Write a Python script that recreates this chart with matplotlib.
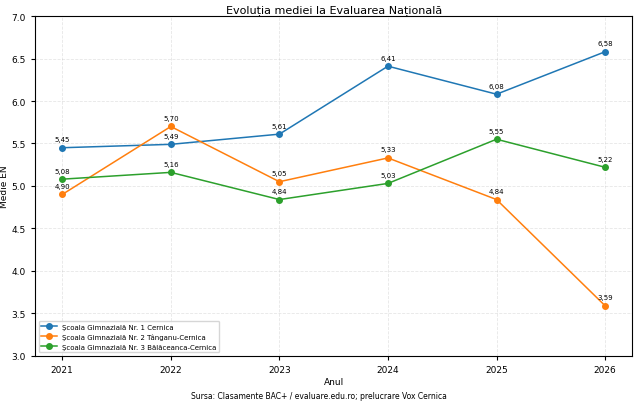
import matplotlib.pyplot as plt

ani = [2021, 2022, 2023, 2024, 2025, 2026]
scoala1 = [5.45, 5.49, 5.61, 6.41, 6.08, 6.58]
scoala2 = [4.90, 5.70, 5.05, 5.33, 4.84, 3.59]
scoala3 = [5.08, 5.16, 4.84, 5.03, 5.55, 5.22]
nume = ['Școala Gimnazială Nr. 1 Cernica',
        'Școala Gimnazială Nr. 2 Tânganu-Cernica',
        'Școala Gimnazială Nr. 3 Bălăceanca-Cernica']

fig = plt.figure(figsize=(6.38, 4.06), dpi=100)
ax = fig.add_axes([0.055, 0.121, 0.936, 0.837])

for vals, label in zip([scoala1, scoala2, scoala3], nume):
    ax.plot(ani, vals, marker='o', markersize=4, linewidth=1.1, label=label)
    for x, y in zip(ani, vals):
        ax.annotate(f"{y:.2f}".replace('.', ','), (x, y), xytext=(0, 4),
                    textcoords='offset points', ha='center', va='bottom', fontsize=5)

ax.set_ylim(3.0, 7.0)
ax.set_xlim(2020.75, 2026.25)
ax.set_xticks(ani)
ax.tick_params(labelsize=6.5, length=3)
ax.grid(True, linestyle='--', alpha=0.3, linewidth=0.6)
ax.set_title('Evoluția mediei la Evaluarea Națională', fontsize=8, pad=3)
ax.set_xlabel('Anul', fontsize=6.5, labelpad=2)
ax.set_ylabel('Medie EN', fontsize=6.5, labelpad=2)
ax.legend(loc='lower left', fontsize=5, handlelength=2.2)
fig.text(0.5, 0.018, 'Sursa: Clasamente BAC+ / evaluare.edu.ro; prelucrare Vox Cernica',
         ha='center', fontsize=5.5)

fig.savefig('out.png', dpi=100)
